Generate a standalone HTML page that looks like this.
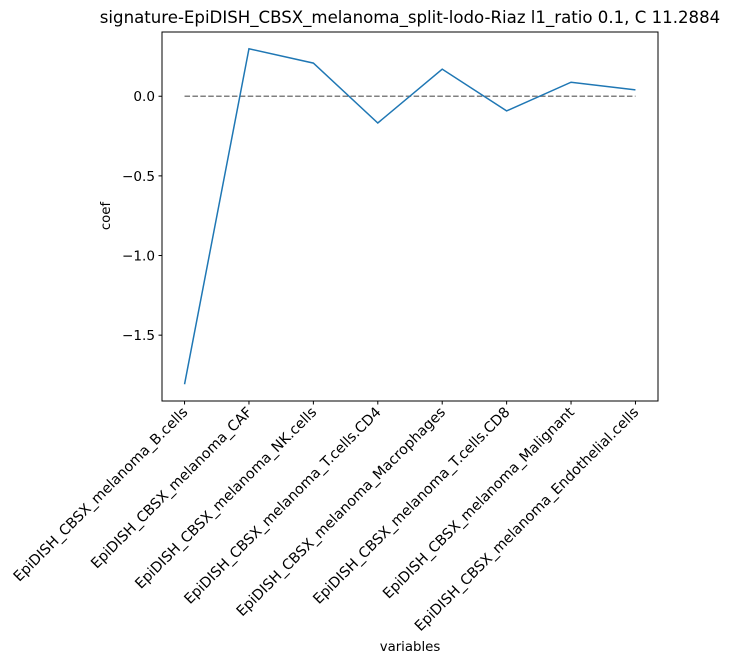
<!DOCTYPE html>
<html><head><meta charset="utf-8"><style>body{margin:0;background:#fff}svg{display:block}text{font-family:"DejaVu Sans","Liberation Sans",sans-serif;fill:#000}</style></head>
<body>
<svg id="chart" width="730" height="663">
<text x="410" y="23" font-size="16.6" text-anchor="middle">signature-EpiDISH_CBSX_melanoma_split-lodo-Riaz l1_ratio 0.1, C 11.2884</text>
<g id="plot"></g>
<rect x="162" y="32" width="496" height="369" fill="none" stroke="#000" stroke-width="1"/>
<text x="410" y="651" font-size="13.3" text-anchor="middle">variables</text>
<text transform="translate(110,216) rotate(-90)" font-size="13.3" text-anchor="middle">coef</text>
</svg>
<script>
const categories=["EpiDISH_CBSX_melanoma_B.cells","EpiDISH_CBSX_melanoma_CAF","EpiDISH_CBSX_melanoma_NK.cells","EpiDISH_CBSX_melanoma_T.cells.CD4","EpiDISH_CBSX_melanoma_Macrophages","EpiDISH_CBSX_melanoma_T.cells.CD8","EpiDISH_CBSX_melanoma_Malignant","EpiDISH_CBSX_melanoma_Endothelial.cells"];
const coefs=[-1.808,0.298,0.208,-0.168,0.17,-0.092,0.088,0.04];
const yTicks=[0.0,-0.5,-1.0,-1.5];
const yTickLabels=["0.0","\u22120.5","\u22121.0","\u22121.5"];
const L=162,R=658,T=32,B=401;
const NS="http://www.w3.org/2000/svg";
const g=document.getElementById('plot');
const n=categories.length;
const xs=(i)=>L+(i+0.35)/(n-1+0.7)*(R-L);
const ymin=Math.min(...coefs,0),ymax=Math.max(...coefs,0),pad=(ymax-ymin)*0.05;
const y0=ymin-pad,y1=ymax+pad;
const ys=(v)=>B-(v-y0)/(y1-y0)*(B-T);
function mk(t,a){const e=document.createElementNS(NS,t);for(const k in a)e.setAttribute(k,a[k]);g.appendChild(e);return e;}
yTicks.forEach((v,i)=>{
 const tk=mk('line',{x1:L-3.5,x2:L,y1:ys(v),y2:ys(v),stroke:'#000'});
 
 
 const tx=mk('text',{x:L-7,y:ys(v)+5,'font-size':'13.6','text-anchor':'end'});
 tx.textContent=yTickLabels[i];
 
 
});
categories.forEach((c,i)=>{
 const x=xs(i);
 const tk=mk('line',{x1:x,x2:x,y1:B,y2:B+3.5,stroke:'#000'});
 
 
 const tx=mk('text',{transform:`translate(${x+4},${B+12}) rotate(-45)`,'font-size':'14.3','text-anchor':'end'});
 tx.textContent=c;
 
 
});
const zl=mk('line',{x1:xs(0),x2:xs(n-1),y1:ys(0),y2:ys(0),stroke:'#808080','stroke-width':'1.5','stroke-dasharray':'5.5,2.4'});


const ln=mk('polyline',{points:coefs.map((v,i)=>xs(i)+','+ys(v)).join(' '),fill:'none',stroke:'#1f77b4','stroke-width':'1.5'});


</script>
</body></html>
